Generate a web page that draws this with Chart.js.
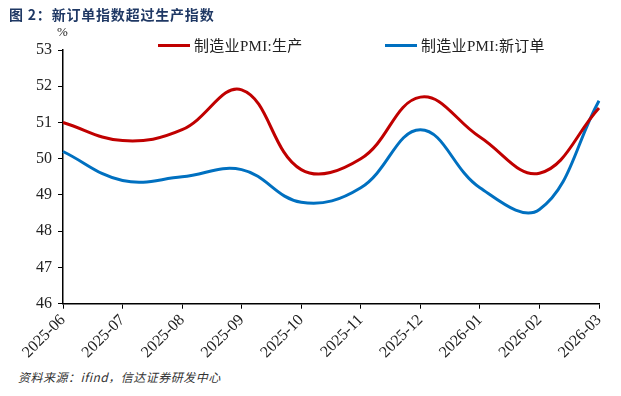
<!DOCTYPE html>
<html>
<head>
<meta charset="utf-8">
<script src="https://cdn.jsdelivr.net/npm/chart.js@4/dist/chart.umd.min.js"></script>
<style>
  body { margin: 0; background: #fff; width: 621px; height: 396px; position: relative; overflow: hidden; }
  #title { position: absolute; left: 9px; top: 4px; font: bold 14px "Noto Sans CJK SC", sans-serif; color: #1f3864; letter-spacing: 0.8px; }
  #unit { position: absolute; left: 57px; top: 24px; font: 13px "Liberation Serif", serif; color: #222; }
  #legend { position: absolute; top: 34px; left: 158px; font: 15px "Liberation Serif", "Noto Sans CJK SC", serif; color: #222; }
  #legend span.item { position: absolute; white-space: nowrap; letter-spacing: 0.3px; }
  #legend i { display: inline-block; width: 32px; height: 3px; vertical-align: middle; margin-right: 4px; position: relative; top: -2px; }
  #source { position: absolute; left: 18px; top: 368px; font: italic 12px "Noto Sans CJK SC", sans-serif; color: #333; letter-spacing: 0.5px; }
  #wrap { position: absolute; left: 0; top: 0; width: 621px; height: 364px; }
</style>
</head>
<body>
<div id="wrap"><canvas id="pmi-chart"></canvas></div>
<div id="title">图 2：新订单指数超过生产指数</div>
<div id="unit">%</div>
<div id="legend">
  <span class="item" style="left:0"><i style="background:#c00000"></i>制造业PMI:生产</span>
  <span class="item" style="left:227px"><i style="background:#0070c0"></i>制造业PMI:新订单</span>
</div>
<div id="source">资料来源：ifind，信达证券研发中心</div>
<script>
const months = ['2025-06', '2025-07', '2025-08', '2025-09', '2025-10', '2025-11', '2025-12', '2026-01', '2026-02', '2026-03'];
const production = [51.0, 50.5, 50.8, 51.9, 49.7, 50.0, 51.7, 50.6, 49.6, 51.4];
const newOrders = [50.2, 49.4, 49.5, 49.7, 48.8, 49.2, 50.8, 49.2, 48.6, 51.6];

const ctx = document.getElementById('pmi-chart').getContext('2d');
new Chart(ctx, {
    type: 'line',
    data: {
        labels: months,
        datasets: [
            { label: '制造业PMI:生产', data: production, borderColor: '#c00000', borderWidth: 3, pointRadius: 0, tension: 0.4, fill: false },
            { label: '制造业PMI:新订单', data: newOrders, borderColor: '#0070c0', borderWidth: 3, pointRadius: 0, tension: 0.4, fill: false }
        ]
    },
    options: {
        responsive: true,
        maintainAspectRatio: false,
        animation: false,
        layout: { padding: { top: 50, left: 30, right: 22, bottom: 0 } },
        plugins: { legend: { display: false }, tooltip: { enabled: false } },
        scales: {
            x: {
                offset: false,
                grid: { drawOnChartArea: false, drawTicks: true, tickLength: 5, color: '#000' },
                border: { color: '#000', width: 1.5 },
                ticks: { minRotation: 45, maxRotation: 45, color: '#222', font: { family: 'Liberation Serif', size: 16 }, padding: 2 }
            },
            y: {
                min: 46,
                max: 53,
                grid: { drawOnChartArea: false, drawTicks: true, tickLength: 5, color: '#000' },
                border: { color: '#000', width: 1.5 },
                ticks: { stepSize: 1, color: '#222', font: { family: 'Liberation Serif', size: 16 }, padding: 6 }
            }
        }
    }
});
</script>
</body>
</html>
